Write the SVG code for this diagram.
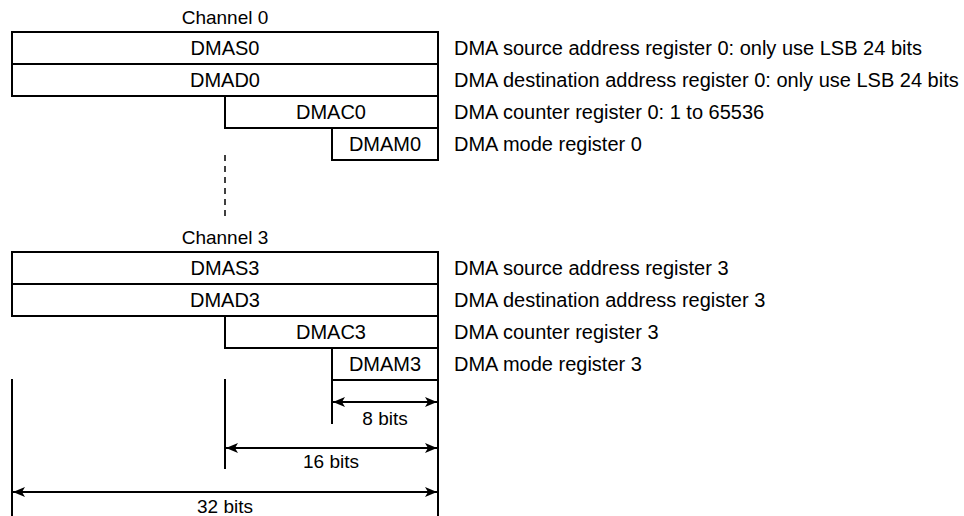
<svg xmlns="http://www.w3.org/2000/svg" width="964" height="516" viewBox="0 0 964 516">
<style>
text{font-family:"Liberation Sans",Arial,sans-serif;font-size:20px;fill:#000}
.c{text-anchor:middle}
.h{font-size:19px}
.b{fill:#fff;stroke:#000;stroke-width:2}
.l{stroke:#000;stroke-width:2;fill:none}
.d{stroke:#000;stroke-width:1.5;fill:none;stroke-dasharray:6,5}
</style>
<defs>
<marker id="ah" viewBox="0 0 12 10" refX="12" refY="5" markerWidth="12" markerHeight="10" markerUnits="userSpaceOnUse" orient="auto-start-reverse">
<path d="M0,0 L12,5 L0,10 L3,5 Z" fill="#000"/>
</marker>
</defs>
<g id="ch0">
<text class="c h" x="225" y="24">Channel 0</text>
<g id="DMAS0"><rect class="b" x="12" y="32" width="426" height="32"/><text class="c" x="225" y="55">DMAS0</text></g>
<g id="DMAD0"><rect class="b" x="12" y="64" width="426" height="32"/><text class="c" x="225" y="87">DMAD0</text></g>
<g id="DMAC0"><rect class="b" x="225" y="96" width="213" height="32"/><text class="c" x="331" y="119">DMAC0</text></g>
<g id="DMAM0"><rect class="b" x="332" y="128" width="106" height="32"/><text class="c" x="385" y="151">DMAM0</text></g>
<text x="454" y="55">DMA source address register 0: only use LSB 24 bits</text>
<text x="454" y="87">DMA destination address register 0: only use LSB 24 bits</text>
<text x="454" y="119">DMA counter register 0: 1 to 65536</text>
<text x="454" y="151">DMA mode register 0</text>
</g>
<g id="ch3">
<text class="c h" x="225" y="244">Channel 3</text>
<g id="DMAS3"><rect class="b" x="12" y="252" width="426" height="32"/><text class="c" x="225" y="275">DMAS3</text></g>
<g id="DMAD3"><rect class="b" x="12" y="284" width="426" height="32"/><text class="c" x="225" y="307">DMAD3</text></g>
<g id="DMAC3"><rect class="b" x="225" y="316" width="213" height="32"/><text class="c" x="331" y="339">DMAC3</text></g>
<g id="DMAM3"><rect class="b" x="332" y="348" width="106" height="32"/><text class="c" x="385" y="371">DMAM3</text></g>
<text x="454" y="275">DMA source address register 3</text>
<text x="454" y="307">DMA destination address register 3</text>
<text x="454" y="339">DMA counter register 3</text>
<text x="454" y="371">DMA mode register 3</text>
</g>
<g id="connectors">
<line class="d" x1="225" y1="155" x2="225" y2="216"/>
<line class="l" x1="12" y1="379" x2="12" y2="516"/>
<line class="l" x1="225" y1="379" x2="225" y2="469"/>
<line class="l" x1="332" y1="380" x2="332" y2="424"/>
<line class="l" x1="438" y1="380" x2="438" y2="516"/>
<line class="l" x1="333" y1="402" x2="437" y2="402" marker-start="url(#ah)" marker-end="url(#ah)"/>
<line class="l" x1="226" y1="448" x2="437" y2="448" marker-start="url(#ah)" marker-end="url(#ah)"/>
<line class="l" x1="13" y1="492" x2="437" y2="492" marker-start="url(#ah)" marker-end="url(#ah)"/>
</g>
<text class="c h" x="385" y="425">8 bits</text>
<text class="c h" x="331" y="468">16 bits</text>
<text class="c h" x="225" y="513">32 bits</text>
</svg>
